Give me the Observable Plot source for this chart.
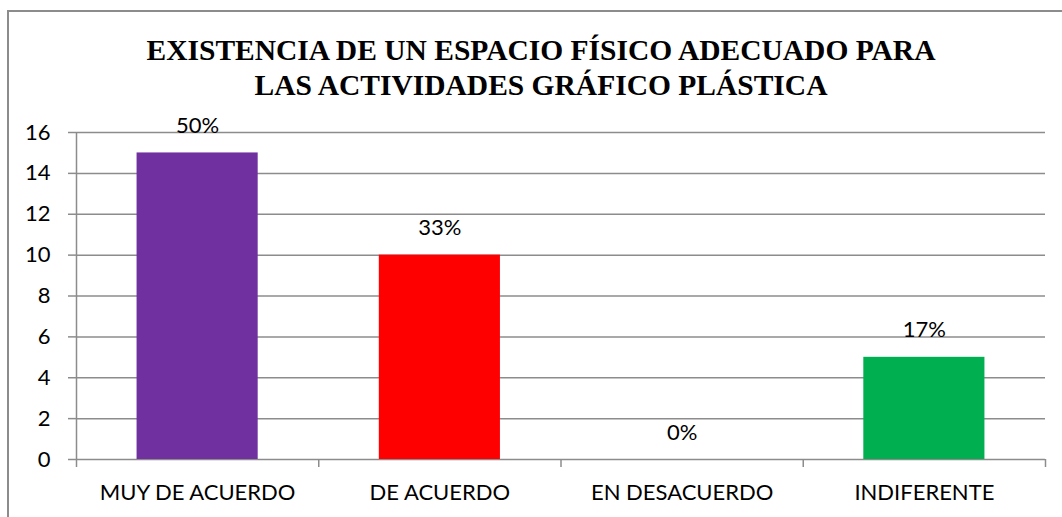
<!DOCTYPE html>
<html>
<head>
<meta charset="utf-8">
<script src="https://cdn.jsdelivr.net/npm/d3@7"></script>
<script src="https://cdn.jsdelivr.net/npm/@observablehq/plot@0.6"></script>
<style>
  html, body { margin: 0; padding: 0; background: #fff; }
  #wrap { position: relative; width: 1062px; height: 517px; overflow: hidden; }
  #frame { position: absolute; left: 7px; top: 10px; width: 1100px; height: 600px; border: 2px solid #8c8c8c; box-sizing: border-box; }
  #title { position: absolute; left: 0; top: 33px; width: 1082px; text-align: center;
    font-family: "Liberation Serif", "Times New Roman", serif; font-weight: bold; font-size: 29.5px; line-height: 35px; color: #000; }
  #chart { position: absolute; left: 0; top: 0; }
</style>
</head>
<body>
<div id="wrap">
  <div id="frame"></div>
  <div id="title">EXISTENCIA DE UN ESPACIO FÍSICO ADECUADO PARA<br>LAS ACTIVIDADES GRÁFICO PLÁSTICA</div>
  <div id="chart"></div>
</div>
<script>
const categories = ["MUY DE ACUERDO", "DE ACUERDO", "EN DESACUERDO", "INDIFERENTE"];
const values = [15, 10, 0, 5];
const percentLabels = ["50%", "33%", "0%", "17%"];
const colors = ["#7030A0", "#FF0000", "#0070C0", "#00B050"];
const yTicks = [0, 2, 4, 6, 8, 10, 12, 14, 16];

const data = categories.map((c, i) => ({i, category: c, value: values[i], label: percentLabels[i], color: colors[i]}));
const font = "Lato, 'Open Sans', sans-serif";
const gridColor = "#8c8c8c";
const fs = 22;

const svg = Plot.plot({
  width: 1062,
  height: 517,
  marginTop: 132,
  marginBottom: 58,
  marginLeft: 76,
  marginRight: 17,
  style: {fontFamily: font, fontSize: fs + "px", color: "#000", background: "transparent"},
  x: {type: "linear", domain: [0, categories.length]},
  y: {domain: [0, 16]},
  marks: [
    Plot.ruleY(yTicks, {stroke: gridColor, strokeWidth: 1.5}),
    Plot.rectY(data, {x1: d => d.i + 0.25, x2: d => d.i + 0.75, y1: 0, y2: "value", fill: "color"}),
    Plot.ruleX([0], {y1: 0, y2: 16, stroke: gridColor, strokeWidth: 1.5}),
    Plot.axisY({ticks: yTicks, tickSize: 8, tickPadding: 18, stroke: gridColor, strokeWidth: 1.5, label: null, fontSize: fs, tickFormat: d => String(d)}),
    Plot.axisX({ticks: d3.range(categories.length + 1), tickSize: 8, tickFormat: () => "", stroke: gridColor, strokeWidth: 1.5, label: null}),
    Plot.axisX({ticks: categories.map((c, i) => i + 0.5), tickSize: 0, tickPadding: 25, tickFormat: v => categories[Math.floor(v)], label: null, fontSize: fs}),
    Plot.text(data, {x: d => d.i + 0.5, y: "value", text: "label", dy: -27, fontSize: fs, fill: "#000"})
  ]
});
svg.querySelectorAll("text").forEach(t => t.setAttribute("fill", "#000"));
document.getElementById("chart").appendChild(svg);
</script>
</body>
</html>
